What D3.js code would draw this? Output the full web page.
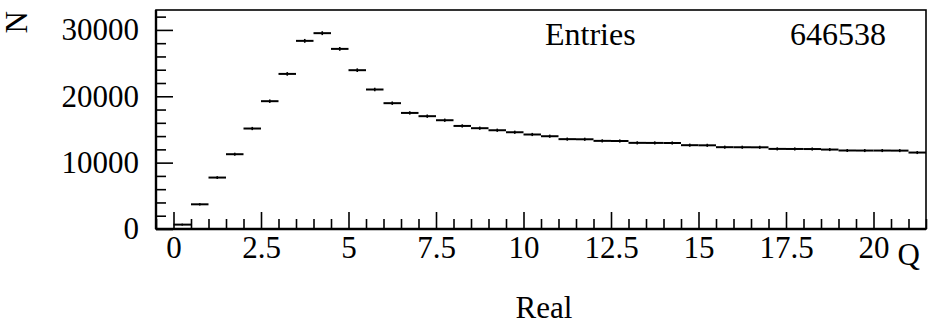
<!DOCTYPE html>
<html>
<head>
<meta charset="utf-8">
<script src="https://cdn.jsdelivr.net/npm/d3@7"></script>
<style>
  html, body { margin: 0; padding: 0; background: #fff; }
  svg { display: block; }
  text { font-family: "Liberation Serif", "Times New Roman", serif; fill: #000; }
</style>
</head>
<body>
<svg id="chart" width="931" height="325"></svg>
<script>
// Histogram binning (Q axis)
const binStart = 0;
const binWidth = 0.5;

// Bin contents, one per bin starting at binStart
const counts = [
  660, 3720, 7750, 11270, 15140, 19260, 23370, 28350, 29510, 27140,
  23930, 21020, 18960, 17490, 17000, 16390, 15530, 15190, 14880, 14580,
  14240, 13980, 13540, 13520, 13280, 13260, 12980, 12970, 12960, 12630,
  12610, 12330, 12320, 12310, 12070, 12060, 12050, 11970, 11830, 11820,
  11820, 11810, 11520
];

const entries = 646538;

// Axis ticks
const xMajorTicks = [0, 2.5, 5, 7.5, 10, 12.5, 15, 17.5, 20];
const yMajorTicks = [0, 10000, 20000, 30000];

const xTitle = "Q";
const yTitle = "N";
const caption = "Real";

const svg = d3.select("#chart");

const frame = { left: 156, right: 926, top: 10, bottom: 229 };

const x = d3.scaleLinear().domain([-0.5, 21.5]).range([frame.left, frame.right]);
const y = d3.scaleLinear().domain([0, 33000]).range([frame.bottom, frame.top]);

const fontSize = 31;

// frame
svg.append("rect")
  .attr("x", frame.left).attr("y", frame.top)
  .attr("width", frame.right - frame.left).attr("height", frame.bottom - frame.top)
  .attr("fill", "none").attr("stroke", "#000").attr("stroke-width", 1.6);

// minor ticks
const xMinor = d3.range(-0.5, 21.5001, 0.5).filter(v => !xMajorTicks.some(t => Math.abs(t - v) < 1e-6));
const yMinor = d3.range(0, 33001, 2000).filter(v => !yMajorTicks.includes(v));

svg.append("g")
  .attr("transform", `translate(0,${frame.bottom})`)
  .call(d3.axisBottom(x).tickValues(xMinor).tickSize(-10).tickFormat(""))
  .call(g => g.select(".domain").remove())
  .selectAll("line").attr("stroke-width", 1.6);

svg.append("g")
  .attr("transform", `translate(${frame.left},0)`)
  .call(d3.axisLeft(y).tickValues(yMinor).tickSize(-10).tickFormat(""))
  .call(g => g.select(".domain").remove())
  .selectAll("line").attr("stroke-width", 1.6);

// major ticks with labels
const xAxis = svg.append("g")
  .attr("transform", `translate(0,${frame.bottom})`)
  .call(d3.axisBottom(x).tickValues(xMajorTicks).tickSize(-17).tickPadding(7).tickFormat(d => String(d)));
xAxis.select(".domain").remove();
xAxis.selectAll("line").attr("stroke-width", 1.6);
xAxis.selectAll("text").attr("font-size", fontSize).style("font-family", "Liberation Serif");

const yAxis = svg.append("g")
  .attr("transform", `translate(${frame.left},0)`)
  .call(d3.axisLeft(y).tickValues(yMajorTicks).tickSize(-17).tickPadding(17).tickFormat(d3.format("d")));
yAxis.select(".domain").remove();
yAxis.selectAll("line").attr("stroke-width", 1.6);
yAxis.selectAll("text").attr("font-size", fontSize).style("font-family", "Liberation Serif");

// axis lines
svg.append("line")
  .attr("x1", frame.left).attr("x2", frame.right)
  .attr("y1", frame.bottom).attr("y2", frame.bottom)
  .attr("stroke", "#000").attr("stroke-width", 2.6);
svg.append("line")
  .attr("x1", frame.left).attr("x2", frame.left)
  .attr("y1", frame.top).attr("y2", frame.bottom)
  .attr("stroke", "#000").attr("stroke-width", 2.4);

// histogram bins with statistical error bars
const bins = counts.map((c, i) => ({
  lo: binStart + i * binWidth,
  hi: binStart + (i + 1) * binWidth,
  mid: binStart + (i + 0.5) * binWidth,
  n: c,
  err: Math.sqrt(c)
}));

const plot = svg.append("g");
plot.selectAll("line.bin")
  .data(bins)
  .join("line")
  .attr("class", "bin")
  .attr("x1", d => x(d.lo)).attr("x2", d => x(d.hi))
  .attr("y1", d => y(d.n)).attr("y2", d => y(d.n))
  .attr("stroke", "#000").attr("stroke-width", 2);

plot.selectAll("line.err")
  .data(bins)
  .join("line")
  .attr("class", "err")
  .attr("x1", d => x(d.mid)).attr("x2", d => x(d.mid))
  .attr("y1", d => y(d.n + d.err) - 0.8).attr("y2", d => y(d.n - d.err) + 0.8)
  .attr("stroke", "#000").attr("stroke-width", 1.6);

// statistics text
svg.append("text")
  .attr("x", 545).attr("y", 45)
  .attr("font-size", 32)
  .text("Entries");
svg.append("text")
  .attr("x", 886).attr("y", 45)
  .attr("text-anchor", "end")
  .attr("font-size", 32)
  .text(String(entries));

// axis titles
svg.append("text")
  .attr("x", 920).attr("y", 265)
  .attr("text-anchor", "end")
  .attr("font-size", fontSize)
  .text(xTitle);

svg.append("text")
  .attr("transform", "translate(27,11) rotate(-90)")
  .attr("text-anchor", "end")
  .attr("font-size", fontSize)
  .text(yTitle);

svg.append("text")
  .attr("x", 544).attr("y", 318)
  .attr("text-anchor", "middle")
  .attr("font-size", fontSize)
  .text(caption);
</script>
</body>
</html>
